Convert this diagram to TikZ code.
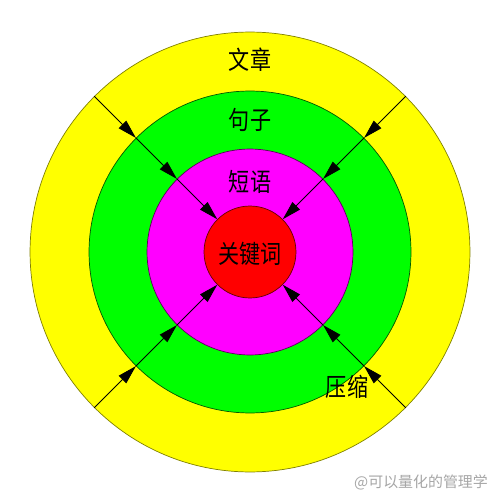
\documentclass[tikz,border=0pt]{standalone}
\usepackage{fontspec}
\usepackage{tikz}
\usetikzlibrary{arrows.meta}
\newfontfamily\zh{Noto Sans CJK SC}
\definecolor{ringyellow}{RGB}{255,255,0}
\definecolor{ringgreen}{RGB}{0,255,0}
\definecolor{ringmagenta}{RGB}{255,0,255}
\definecolor{ringred}{RGB}{255,0,0}

\begin{document}
\begin{tikzpicture}[x=0.02cm, y=-0.02cm,
	ring/.style={shape=circle, inner sep=0pt, line width=0.4pt},
	word/.style={font=\zh\fontsize{12}{14}\selectfont, yscale=1.2},
	press/.style={-{Triangle[length=3.8mm, width=2.1mm]}, black, line width=0.5pt}]
	\useasboundingbox (0, 0) rectangle (500, 500);

	\node[ring, fill=ringyellow, draw=ringyellow!50!black, minimum size=8.8cm]   (wz)  at (250, 252) {};
	\node[ring, fill=ringgreen, draw=ringgreen!35!black, minimum size=6.44cm]    (jz)  at (250, 252) {};
	\node[ring, fill=ringmagenta, draw=ringmagenta!35!black, minimum size=4.12cm] (dy) at (250, 252) {};
	\node[ring, fill=ringred, draw=ringred!40!black, minimum size=1.84cm]        (gjc) at (250, 252) {};

	\node[word] (wzlabel)  at (250, 60)  {文章};
	\node[word] (jzlabel)  at (250, 120) {句子};
	\node[word] (dylabel)  at (250, 182) {短语};
	\node[word] (gjclabel) at (250, 254) {关键词};
	\node[word] (yslabel)  at (347, 387) {压缩};

	% arrows towards the centre
	\foreach \a in {45, 135, 225, 315} {
		\path[press] (wz.\a) edge (jz.\a);
		\path[press] (jz.\a) edge (dy.\a);
		\path[press] (dy.\a) edge (gjc.\a);
	}

	\node[font=\zh\fontsize{8.5}{10}\selectfont, text=black!35] (mark) at (421, 482) {@可以量化的管理学};
\end{tikzpicture}
\end{document}
